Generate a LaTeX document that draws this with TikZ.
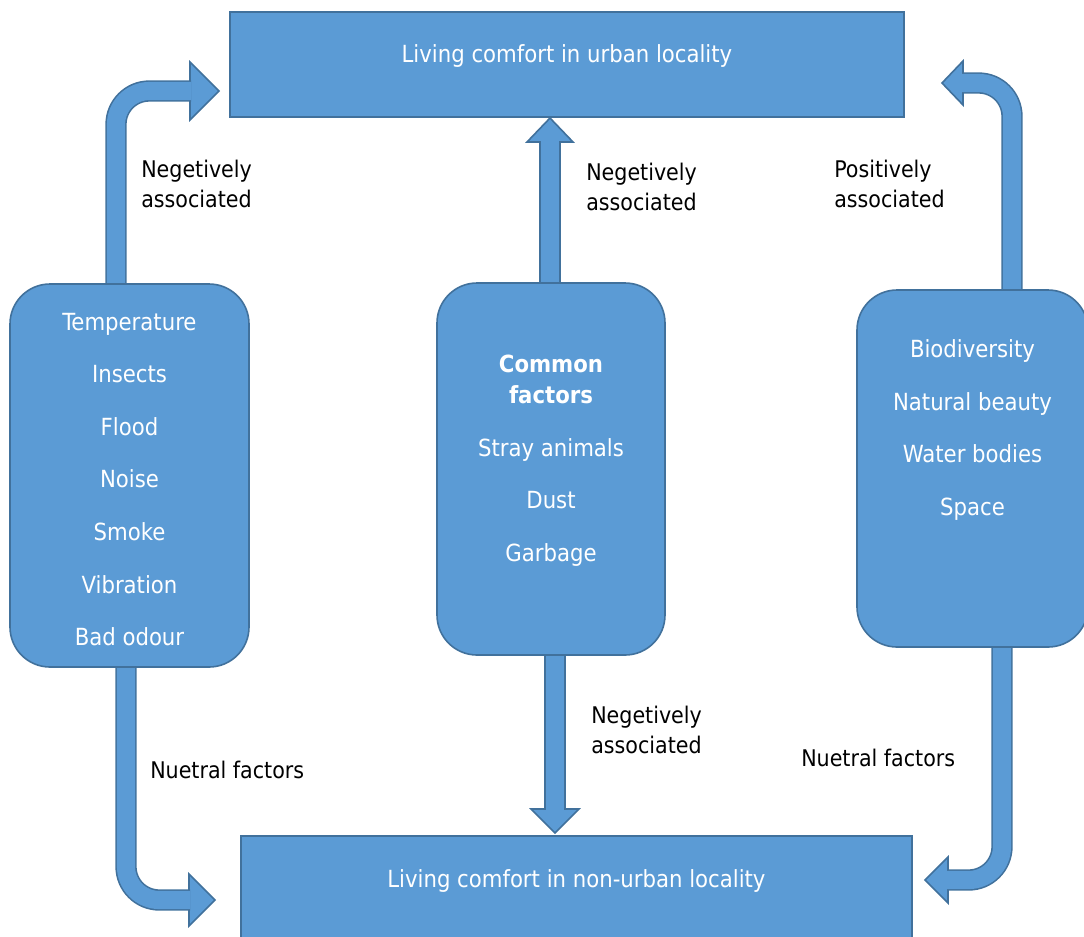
\documentclass[tikz,border=0pt]{standalone}
\usepackage{fontspec}
\setmainfont{DejaVu Sans Condensed}
\usetikzlibrary{backgrounds}
\definecolor{boxblue}{HTML}{5B9BD5}
\definecolor{edgeblue}{HTML}{41719C}
\tikzset{
  mainbox/.style={rectangle,draw=edgeblue,fill=boxblue,line width=1.2pt,inner sep=0pt},
  factorbox/.style={mainbox,rounded corners=30pt},
  boxtext/.style={text=white,align=center,inner sep=0pt,font=\fontsize{17.7}{39.4}\selectfont},
  linktext/.style={text=black,align=left,anchor=west,inner sep=0pt,font=\fontsize{17.2}{22.5}\selectfont},
  shaft/.style={draw=edgeblue,line width=1.2pt,double=boxblue,double distance=13.6pt,rounded corners=25pt},
  headtip/.style={draw=edgeblue,fill=boxblue,line width=1.2pt,line join=miter}
}
% tip, angle, length, half width
\newcommand{\blockhead}[4]{\draw[headtip,shift={(#1)},rotate=#2] (-#3,-#4) -- (0,0) -- (-#3,#4) -- cycle;}
\begin{document}
\begin{tikzpicture}[x=0.75pt,y=-0.75pt]
\useasboundingbox (0,0) rectangle (1084,936);
\node at (567,64.5) [mainbox,minimum width=505.5pt,minimum height=78.75pt] (urban) {};
\node at ([yshift=-33.75pt]urban.north) [boxtext] (urbantext) {Living comfort in urban locality};
\node at (576.5,918) [mainbox,minimum width=503.25pt,minimum height=123pt] (nonurban) {};
\node at ([yshift=-34.5pt]nonurban.north) [boxtext] (nonurbantext) {Living comfort in non-urban locality};
%
\node at (129.5,475.5) [factorbox,minimum width=179.25pt,minimum height=287.25pt] (neg) {};
\node at ([yshift=-3pt]neg.center) [boxtext] (negtext) {Temperature\\Insects\\Flood\\Noise\\Smoke\\Vibration\\Bad odour};
\node at (551,469) [factorbox,minimum width=171pt,minimum height=279pt] (common) {};
\node at ([yshift=6.2pt]common.center) [boxtext,font=\fontsize{17.7}{23.25}\selectfont] (commontext)
  {\textbf{Common}\\\textbf{factors}\\[16.15pt]Stray animals\\[16.15pt]Dust\\[16.15pt]Garbage};
\node at (972.5,468.5) [factorbox,minimum width=173.25pt,minimum height=267.75pt] (pos) {};
\node at ([yshift=28.9pt]pos.center) [boxtext] (postext) {Biodiversity\\Natural beauty\\Water bodies\\Space};
%
\node at (141,184) [linktext] (negleft) {Negetively\\associated};
\node at (586,187) [linktext] (negtop) {Negetively\\associated};
\node at (834,184) [linktext] (posright) {Positively\\associated};
\node at (150,770) [linktext] (neutleft) {Nuetral factors};
\node at (591,730) [linktext] (negbottom) {Negetively\\associated};
\node at (801,758) [linktext] (neutright) {Nuetral factors};
%
\coordinate (bendA) at (116,91);  \coordinate (tipA) at (219,91);
\coordinate (bendB) at (1012,83); \coordinate (tipB) at (942,83);
\coordinate (tipC) at (550,118);
\coordinate (tipD) at (555,833);
\coordinate (bendE) at (126,900); \coordinate (tipE) at (215,900);
\coordinate (bendF) at (1002,880); \coordinate (tipF) at (925,880);
%
\begin{pgfonlayer}{background}
\blockhead{tipA}{0}{29}{29}
\draw[shaft] (neg.north -| bendA) -- (bendA) -- ([xshift=-21pt]tipA);
%
\blockhead{tipB}{180}{21}{22}
\draw[shaft] (pos.north -| bendB) -- (bendB) -- ([xshift=15pt]tipB);
%
\blockhead{tipC}{90}{24}{23}
\draw[shaft] (common.north -| tipC) -- ([yshift=-17.25pt]tipC);
%
\blockhead{tipD}{-90}{24}{24}
\draw[shaft] (common.south -| tipD) -- ([yshift=17.25pt]tipD);
%
\blockhead{tipE}{0}{26}{26}
\draw[shaft] (neg.south -| bendE) -- (bendE) -- ([xshift=-18.75pt]tipE);
%
\blockhead{tipF}{180}{23}{23}
\draw[shaft] (pos.south -| bendF) -- (bendF) -- ([xshift=16.5pt]tipF);
\end{pgfonlayer}
\end{tikzpicture}
\end{document}
